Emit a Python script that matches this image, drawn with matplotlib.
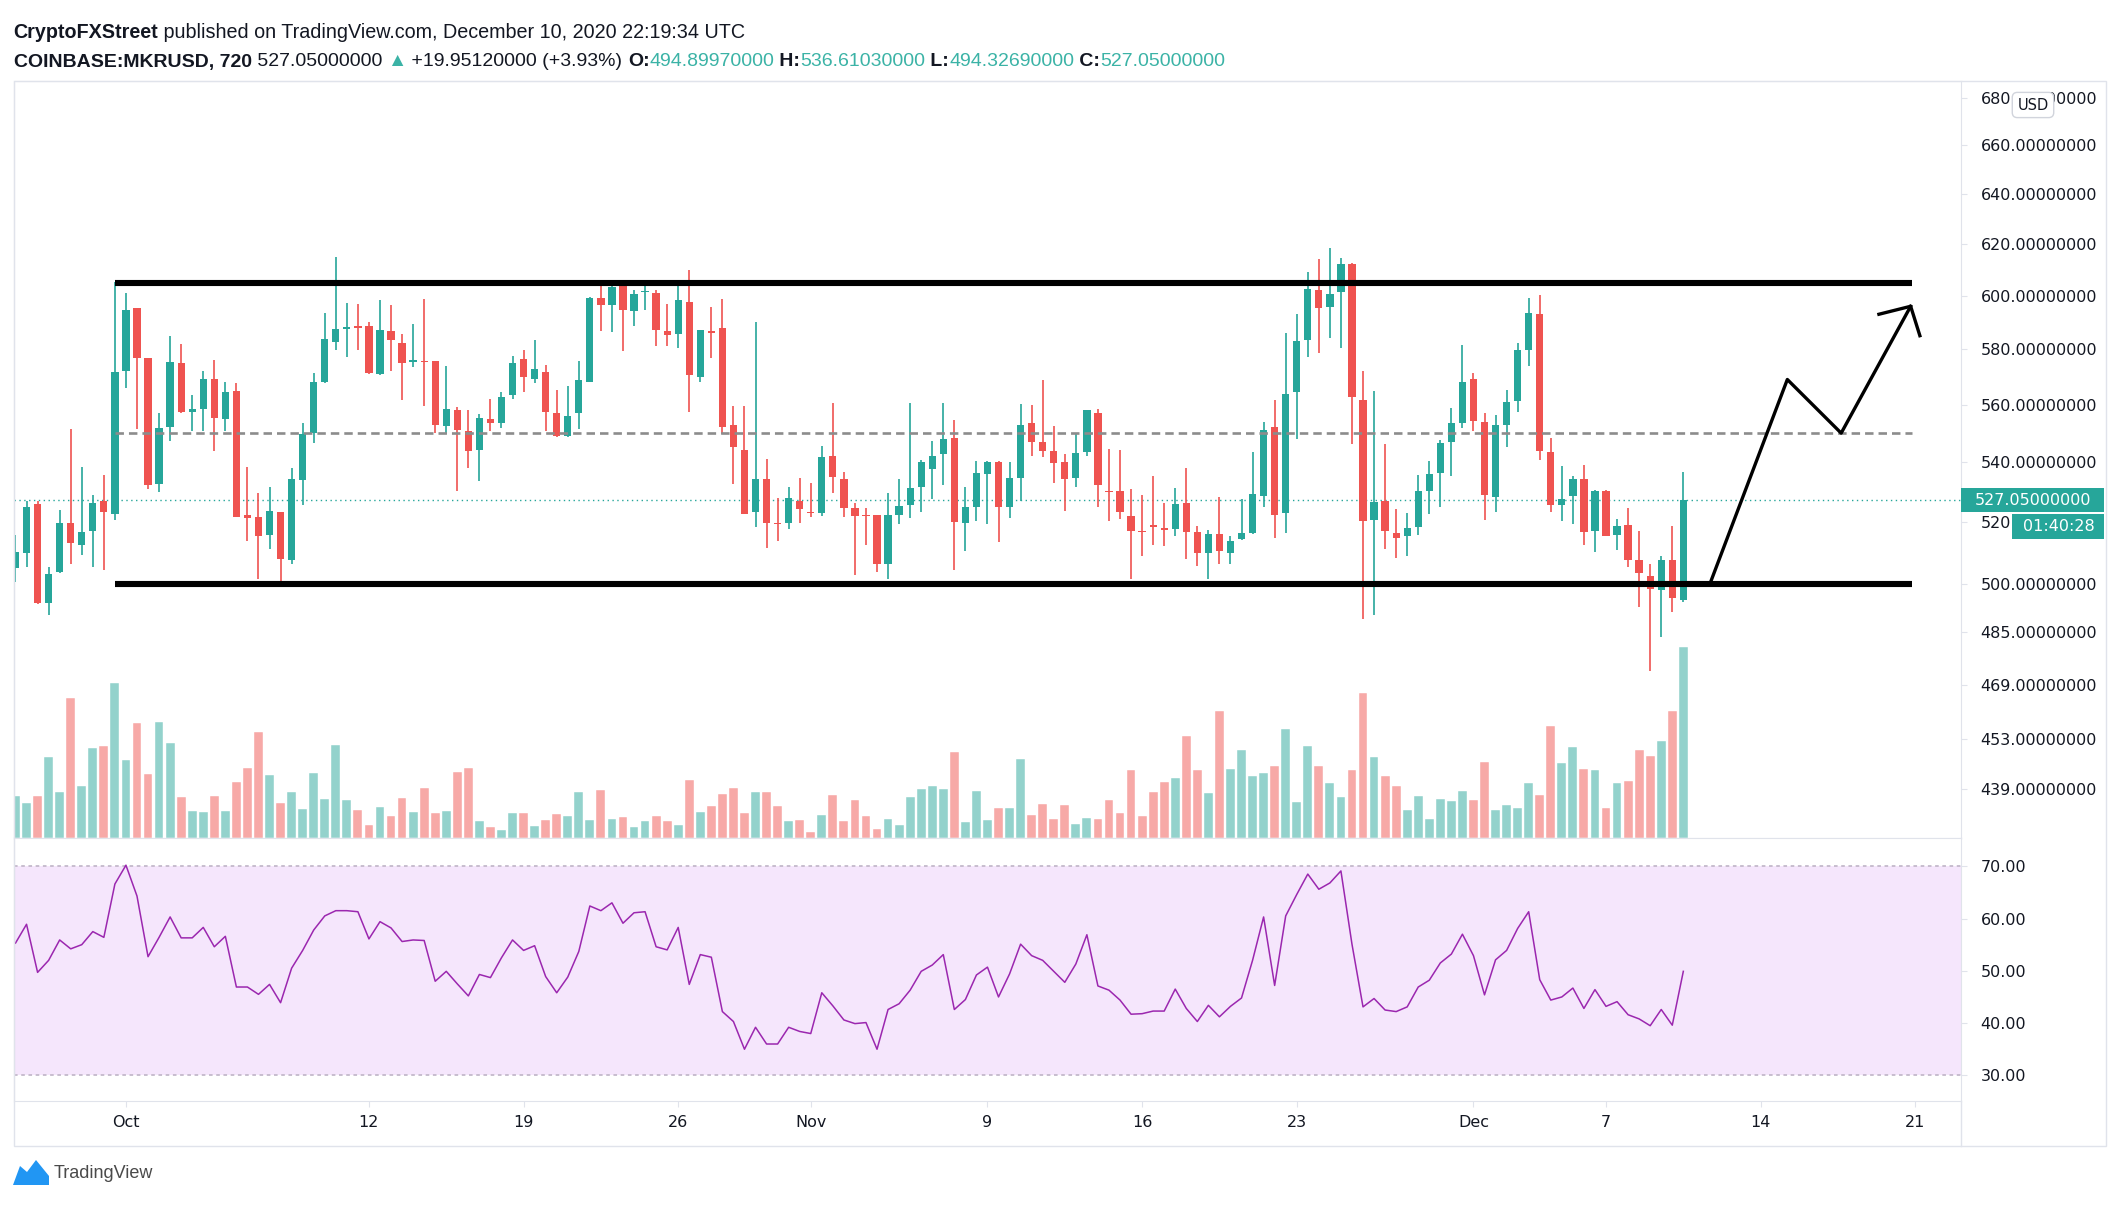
import matplotlib.pyplot as plt
import matplotlib.dates as mdates
from matplotlib.patches import Rectangle, Polygon
from matplotlib.lines import Line2D
from matplotlib.ticker import NullLocator
import numpy as np
import pandas as pd

plt.rcParams['font.family'] = ['DejaVu Sans']

# ----------------------------
# Data: COINBASE:MKRUSD, 12h candles
# ----------------------------
times = pd.date_range("2020-09-26 00:00", periods=152, freq="12h")

opens = [504.9, 509.9, 525.9, 494.0, 503.6, 519.7, 512.4, 516.8, 527.0, 522.6,
         571.9, 595.2, 576.7, 532.6, 552.0, 575.1, 557.5, 558.4, 569.2, 554.8,
         564.7, 522.2, 521.4, 515.5, 523.1, 507.4, 533.9, 549.9, 568.0, 582.6,
         587.5, 588.6, 588.6, 570.9, 586.7, 582.2, 575.3, 575.8, 575.8, 552.5,
         558.1, 550.9, 544.2, 554.8, 553.4, 563.3, 576.3, 569.2, 571.7, 557.0,
         549.1, 556.9, 568.2, 599.1, 596.5, 603.7, 594.2, 601.3, 601.2, 586.7,
         585.5, 597.8, 570.0, 586.7, 587.7, 552.8, 544.2, 523.1, 534.1, 519.7,
         519.5, 527.0, 523.1, 522.8, 542.1, 534.1, 524.4, 522.2, 522.2, 506.2,
         522.2, 525.5, 531.4, 537.5, 542.7, 548.2, 519.5, 525.0, 535.9, 540.2,
         524.7, 534.7, 553.4, 546.8, 543.9, 540.2, 534.5, 543.4, 556.9, 530.2,
         530.3, 522.0, 516.8, 518.8, 517.8, 517.6, 526.3, 516.5, 509.9, 515.8,
         509.9, 514.2, 516.2, 528.6, 552.0, 522.8, 564.4, 583.4, 602.2, 595.6,
         601.6, 612.1, 561.7, 520.6, 527.0, 516.2, 515.3, 518.1, 530.3, 536.2,
         546.8, 553.6, 569.2, 553.8, 528.1, 552.8, 561.3, 579.8, 593.0, 543.4,
         525.4, 528.6, 534.1, 516.8, 530.2, 515.6, 518.9, 507.4, 502.4, 498.0,
         507.4, 494.8997]
highs = [515.7, 527.0, 526.7, 505.2, 523.9, 551.4, 538.2, 528.9, 535.6, 605.4,
         601.2, 595.5, 576.9, 557.1, 584.9, 581.9, 563.3, 572.1, 576.1, 568.0,
         567.9, 538.2, 529.4, 531.7, 523.3, 537.9, 553.6, 571.2, 593.6, 614.8,
         597.2, 596.8, 590.2, 598.2, 596.5, 585.6, 589.3, 598.8, 575.8, 574.0,
         559.3, 558.1, 556.7, 561.9, 564.4, 577.7, 579.6, 583.4, 574.3, 565.3,
         566.5, 575.7, 599.7, 604.1, 604.7, 604.1, 602.2, 604.7, 602.2, 596.8,
         604.7, 609.8, 587.3, 595.7, 598.7, 559.6, 559.6, 590.2, 540.9, 528.0,
         531.7, 534.7, 533.0, 545.5, 560.5, 536.5, 526.3, 524.4, 522.3, 529.6,
         534.2, 560.5, 540.7, 547.3, 560.7, 554.6, 531.5, 540.4, 540.5, 540.4,
         539.9, 560.3, 559.9, 568.8, 552.6, 542.7, 549.7, 558.1, 558.3, 544.5,
         544.2, 530.8, 528.9, 535.4, 526.3, 531.3, 537.9, 518.7, 517.3, 528.1,
         515.3, 527.5, 543.6, 553.8, 561.7, 586.1, 593.0, 609.2, 614.0, 618.5,
         614.4, 612.4, 572.2, 565.0, 546.1, 524.1, 522.8, 535.6, 540.4, 547.6,
         558.7, 581.4, 571.2, 557.1, 556.5, 565.3, 582.2, 599.3, 600.3, 548.2,
         538.8, 535.4, 539.0, 530.5, 530.4, 520.8, 524.4, 516.8, 506.2, 508.8,
         518.7, 536.6103]
lows = [500.6, 505.2, 493.5, 490.2, 503.3, 506.2, 509.0, 505.4, 504.3, 520.6,
        565.8, 551.3, 530.8, 530.0, 547.3, 556.9, 550.8, 550.8, 543.9, 550.8,
        521.5, 513.8, 501.6, 511.1, 499.0, 506.2, 525.5, 546.7, 567.6, 579.8,
        577.3, 579.6, 570.9, 570.6, 571.9, 561.5, 573.5, 559.5, 549.9, 549.6,
        530.3, 537.9, 533.6, 550.8, 551.7, 562.1, 564.4, 567.6, 550.8, 548.8,
        548.8, 551.3, 568.0, 586.7, 586.5, 579.2, 588.7, 594.6, 581.2, 581.2,
        580.4, 557.5, 568.0, 576.9, 549.6, 532.6, 522.6, 518.1, 511.5, 513.7,
        517.5, 519.7, 521.5, 522.0, 529.4, 521.7, 502.7, 512.3, 503.6, 501.6,
        519.2, 521.2, 523.3, 527.4, 532.2, 504.3, 510.4, 520.3, 519.2, 513.2,
        521.2, 526.9, 542.1, 541.6, 532.8, 523.6, 531.4, 542.1, 525.0, 520.3,
        520.8, 501.6, 508.7, 512.3, 512.1, 515.3, 507.8, 505.6, 501.6, 506.2,
        506.2, 514.0, 516.0, 524.7, 514.6, 516.4, 548.0, 577.1, 578.8, 584.0,
        580.4, 546.2, 488.8, 490.2, 511.1, 508.3, 508.8, 515.7, 522.4, 524.7,
        535.4, 551.9, 550.8, 520.4, 523.3, 545.1, 557.5, 573.9, 540.7, 523.3,
        520.3, 519.3, 512.3, 510.2, 515.3, 510.7, 505.4, 492.5, 473.0, 483.5,
        491.0, 494.3269]
closes = [510.2, 525.0, 494.0, 503.0, 519.5, 512.9, 516.5, 526.3, 523.2, 571.6,
          594.6, 576.7, 532.1, 551.9, 575.5, 557.3, 558.3, 569.2, 555.2, 564.6,
          521.7, 521.2, 515.3, 523.6, 507.8, 534.2, 549.6, 568.2, 583.7, 587.5,
          588.1, 588.0, 571.2, 587.1, 583.4, 574.9, 576.1, 575.4, 552.8, 558.4,
          551.1, 543.9, 555.4, 553.4, 562.9, 574.9, 570.0, 572.7, 557.5, 549.0,
          556.1, 568.8, 599.3, 596.5, 603.2, 594.6, 600.7, 601.7, 587.1, 585.2,
          598.2, 570.6, 587.1, 585.9, 552.3, 545.3, 522.6, 534.1, 519.7, 519.3,
          527.8, 524.1, 522.8, 541.9, 534.8, 524.4, 521.9, 521.9, 506.2, 522.2,
          525.2, 531.1, 539.9, 542.2, 548.0, 519.9, 524.9, 536.4, 540.2, 524.7,
          534.6, 552.8, 546.8, 543.9, 539.8, 534.3, 543.1, 558.1, 532.1, 529.7,
          523.1, 516.8, 516.5, 518.2, 517.4, 525.9, 516.5, 509.9, 515.8, 510.4,
          513.7, 516.2, 529.2, 551.1, 522.2, 563.9, 583.2, 602.4, 595.2, 600.7,
          612.1, 562.9, 520.3, 526.6, 516.8, 514.6, 517.8, 530.2, 535.9, 546.4,
          553.4, 568.2, 554.4, 528.9, 552.8, 561.1, 579.8, 593.3, 543.9, 525.4,
          527.4, 534.2, 516.5, 530.2, 515.4, 518.7, 507.4, 503.3, 498.2, 507.4,
          495.6, 527.05]
volumes = [123, 103, 123, 240, 135, 415, 153, 265, 271, 457,
           230, 340, 188, 343, 281, 120, 80, 76, 125, 80,
           165, 207, 312, 187, 104, 136, 85, 191, 116, 274,
           111, 82, 38, 91, 65, 119, 77, 149, 73, 80,
           195, 207, 50, 33, 25, 73, 73, 36, 53, 71,
           64, 135, 54, 142, 56, 62, 32, 49, 65, 49,
           38, 170, 76, 95, 130, 147, 73, 135, 137, 95,
           49, 52, 19, 68, 128, 49, 112, 65, 28, 55,
           37, 120, 144, 155, 144, 255, 47, 140, 53, 88,
           88, 234, 68, 100, 55, 97, 41, 60, 55, 112,
           73, 200, 65, 135, 165, 177, 302, 200, 132, 374,
           205, 260, 183, 193, 212, 321, 106, 271, 212, 163,
           120, 200, 429, 238, 184, 155, 82, 125, 57, 115,
           108, 140, 113, 224, 82, 97, 90, 163, 128, 332,
           222, 269, 205, 202, 88, 163, 167, 260, 241, 286,
           374, 563]
rsi = [55.3, 58.9, 49.7, 52.0, 55.9, 54.2, 55.0, 57.5, 56.4, 66.6,
       70.2, 64.3, 52.7, 56.4, 60.3, 56.3, 56.3, 58.3, 54.6, 56.6,
       46.9, 46.9, 45.5, 47.4, 43.9, 50.5, 53.9, 57.8, 60.5, 61.5,
       61.5, 61.3, 56.1, 59.4, 58.2, 55.6, 55.9, 55.8, 48.0, 49.9,
       47.5, 45.2, 49.3, 48.7, 52.5, 55.9, 53.9, 54.8, 48.9, 45.8,
       48.8, 53.7, 62.4, 61.5, 63.0, 59.1, 61.1, 61.3, 54.6, 54.0,
       58.3, 47.4, 53.1, 52.6, 42.2, 40.3, 35.0, 39.2, 36.0, 36.0,
       39.2, 38.4, 38.0, 45.8, 43.3, 40.6, 39.9, 40.1, 35.0, 42.6,
       43.7, 46.3, 49.9, 51.1, 53.1, 42.6, 44.5, 49.2, 50.7, 45.0,
       49.4, 55.1, 52.9, 52.0, 49.9, 47.8, 51.3, 56.9, 47.1, 46.3,
       44.4, 41.7, 41.8, 42.3, 42.3, 46.5, 42.8, 40.3, 43.4, 41.2,
       43.2, 44.8, 52.0, 60.3, 47.2, 60.5, 64.6, 68.5, 65.6, 66.8,
       69.1, 55.1, 43.1, 44.7, 42.5, 42.2, 43.1, 46.9, 48.2, 51.5,
       53.2, 57.0, 52.9, 45.4, 52.1, 53.9, 58.1, 61.3, 48.3, 44.4,
       45.0, 46.7, 42.8, 46.4, 43.2, 44.1, 41.6, 40.8, 39.5, 42.6,
       39.6, 49.9]

price_ticks = [439, 453, 469, 485, 500, 520, 540, 560, 580, 600, 620, 640, 660, 680]
rsi_ticks = [30, 40, 50, 60, 70]
date_ticks = ["2020-10-01", "2020-10-12", "2020-10-19", "2020-10-26", "2020-11-01",
              "2020-11-09", "2020-11-16", "2020-11-23", "2020-12-01", "2020-12-07",
              "2020-12-14", "2020-12-21"]
date_labels = ["Oct", "12", "19", "26", "Nov", "9", "16", "23", "Dec", "7", "14", "21"]

# drawn range + projection arrow
range_top, range_mid, range_bottom = 605, 550, 500
range_start, range_end = "2020-09-30 12:00", "2020-12-20 20:00"
last_price = 527.05
arrow_times = ["2020-12-11 17:00", "2020-12-15 05:00", "2020-12-17 15:30", "2020-12-20 19:00"]
arrow_prices = [500, 569, 550, 596]
head_times = ["2020-12-19 08:30", "2020-12-20 19:00", "2020-12-21 05:00"]
head_prices = [593, 596, 585]

# ----------------------------
# Colors
# ----------------------------
UP, DOWN = "#26a69a", "#ef5350"
VOL_UP, VOL_DOWN = "#93d2cc", "#f7a9a7"
GRID = "#e0e3eb"
TXT = "#131722"

# ----------------------------
# Figure / panes (pixel layout)
# ----------------------------
W, H = 2118, 1216
fig = plt.figure(figsize=(W / 100, H / 100), dpi=100)


def rect(x0, y0, x1, y1):
    return [x0 / W, 1 - y1 / H, (x1 - x0) / W, (y1 - y0) / H]


PL, PR, FR = 13.5, 1961, 2106
ax_vol = fig.add_axes(rect(PL, 81, PR, 838))
ax = fig.add_axes(rect(PL, 81, PR, 838))
ax_rsi = fig.add_axes(rect(PL, 838, PR, 1101))

t0 = mdates.date2num(times[0])
xlim = (t0 - 0.09, t0 + 88.07)
x = mdates.date2num(times)

o = np.array(opens)
c = np.array(closes)
up = c >= o
cols = [UP if u else DOWN for u in up]

# ----------------------------
# Volume overlay
# ----------------------------
ax_vol.bar(x, volumes, width=0.4, color=[VOL_UP if u else VOL_DOWN for u in up],
           edgecolor="white", linewidth=0.3)
ax_vol.set_xlim(xlim)
ax_vol.set_ylim(0, 2236)
ax_vol.axis("off")

# ----------------------------
# Candles
# ----------------------------
ax.patch.set_alpha(0)
ax.set_yscale("log")
ax.vlines(x, lows, highs, colors=cols, linewidth=1.2, zorder=2)
ax.bar(x, np.maximum(np.abs(c - o), 0.35), bottom=np.minimum(o, c), width=0.33,
       color=cols, linewidth=0, zorder=2)

xs, xe = mdates.date2num(pd.Timestamp(range_start)), mdates.date2num(pd.Timestamp(range_end))
ax.hlines(range_mid, xs, xe, color="#8c8c8c", lw=1.9, linestyles=(0, (3.2, 1.9)), zorder=3)
ax.hlines([range_top, range_bottom], xs, xe, color="black", lw=4.4, zorder=4)
ax.axhline(last_price, color=UP, lw=1, linestyle=(0, (1, 2.5)), zorder=1)
ax.plot(mdates.date2num(pd.to_datetime(arrow_times)), arrow_prices, color="black", lw=2.4, zorder=5)
ax.plot(mdates.date2num(pd.to_datetime(head_times)), head_prices, color="black", lw=2.4, zorder=5)

ax.set_xlim(xlim)
ax.set_ylim(425.6, 687.4)
ax.yaxis.tick_right()
ax.set_yticks(price_ticks)
ax.set_yticklabels([f"{v:.8f}" for v in price_ticks])
ax.yaxis.set_minor_locator(NullLocator())
ax.tick_params(axis="y", length=4, color=GRID, pad=10, labelsize=11.5, labelcolor=TXT)
ax.tick_params(axis="x", bottom=False, labelbottom=False)
for s in ax.spines.values():
    s.set_color(GRID)

# ----------------------------
# RSI pane
# ----------------------------
ax_rsi.axhspan(30, 70, color="#f5e6fc", lw=0, zorder=0)
for lvl in (30, 70):
    ax_rsi.axhline(lvl, color="#c4b9cb", lw=1.3, linestyle=(0, (2, 2)), zorder=1)
ax_rsi.plot(x, rsi, color="#9b27af", lw=1.1, zorder=2)
ax_rsi.set_xlim(xlim)
ax_rsi.set_ylim(25.1, 75.4)
ax_rsi.yaxis.tick_right()
ax_rsi.set_yticks(rsi_ticks)
ax_rsi.set_yticklabels([f"{v:.2f}" for v in rsi_ticks])
ax_rsi.set_xticks(mdates.date2num(pd.to_datetime(date_ticks)))
ax_rsi.set_xticklabels(date_labels)
ax_rsi.tick_params(axis="y", length=4, color=GRID, pad=10, labelsize=11.5, labelcolor=TXT)
ax_rsi.tick_params(axis="x", length=4, color=GRID, pad=6, labelsize=11.5, labelcolor=TXT)
for s in ax_rsi.spines.values():
    s.set_color(GRID)

# outer frame + separator in time-axis strip
fig.add_artist(Rectangle((PL / W, 1 - 1146 / H), (FR - PL) / W, (1146 - 81) / H,
                         transform=fig.transFigure, fill=False, ec=GRID, lw=1))
fig.add_artist(Line2D([PR / W, PR / W], [1 - 1146 / H, 1 - 1101 / H],
                      transform=fig.transFigure, color=GRID, lw=1))

# ----------------------------
# Price / countdown labels on the axis
# ----------------------------
inv = fig.transFigure.inverted()
y_last = inv.transform(ax.transData.transform((t0, last_price)))[1]
fig.add_artist(Rectangle((PR / W, y_last - 12 / H), (FR - 2 - PR) / W, 24 / H,
                         transform=fig.transFigure, fc=UP, ec="none", zorder=5))
fig.text(1975 / W, y_last, f"{last_price:.8f}", color="white", fontsize=11.5,
         va="center", ha="left", zorder=6)
fig.add_artist(Rectangle((2012 / W, y_last - 39 / H), (FR - 2 - 2012) / W, 25 / H,
                         transform=fig.transFigure, fc=UP, ec="none", zorder=5))
fig.text(2059 / W, y_last - 26.5 / H, "01:40:28", color="white", fontsize=11.5,
         va="center", ha="center", zorder=6)
fig.text(2033 / W, 1 - 105 / H, "USD", color=TXT, fontsize=10.5, va="center", ha="center",
         zorder=6, bbox=dict(boxstyle="round,pad=0.35", fc="white", ec="#d1d4dc", lw=1))

# ----------------------------
# Header
# ----------------------------
renderer = fig.canvas.get_renderer()


def draw_runs(x_px, y_px, runs, size):
    for s, color, weight in runs:
        t = fig.text(x_px / W, 1 - y_px / H, s, color=color, fontweight=weight,
                     fontsize=size, va="center", ha="left",
                     family=["Liberation Sans", "DejaVu Sans"])
        x_px += t.get_window_extent(renderer).width


draw_runs(13.5, 33, [("CryptoFXStreet", TXT, "bold"),
                     (" published on TradingView.com, December 10, 2020 22:19:34 UTC", TXT, "normal")], 14.2)
TEAL = "#3bb3a6"
draw_runs(13.5, 62, [("COINBASE:MKRUSD, 720", TXT, "bold"),
                     (" 527.05000000 ", TXT, "normal"),
                     ("\u25B2", TEAL, "normal"),
                     (" +19.95120000 (+3.93%) ", TXT, "normal"),
                     ("O:", TXT, "bold"), ("494.89970000", TEAL, "normal"),
                     (" H:", TXT, "bold"), ("536.61030000", TEAL, "normal"),
                     (" L:", TXT, "bold"), ("494.32690000", TEAL, "normal"),
                     (" C:", TXT, "bold"), ("527.05000000", TEAL, "normal")], 14.0)

# ----------------------------
# TradingView logo
# ----------------------------
fig.add_artist(Polygon([(13 / W, 1 - 1185 / H), (20 / W, 1 - 1166 / H), (27 / W, 1 - 1172 / H),
                        (36 / W, 1 - 1160 / H), (49 / W, 1 - 1176 / H), (49 / W, 1 - 1185 / H)],
                       closed=True, transform=fig.transFigure, fc="#2196f3", ec="none"))
fig.text(54 / W, 1 - 1173 / H, "TradingView", color="#4a4a4a", fontsize=13,
         va="center", ha="left", family=["Liberation Sans", "DejaVu Sans"])

fig.savefig("out.png", dpi=100, facecolor="white")
